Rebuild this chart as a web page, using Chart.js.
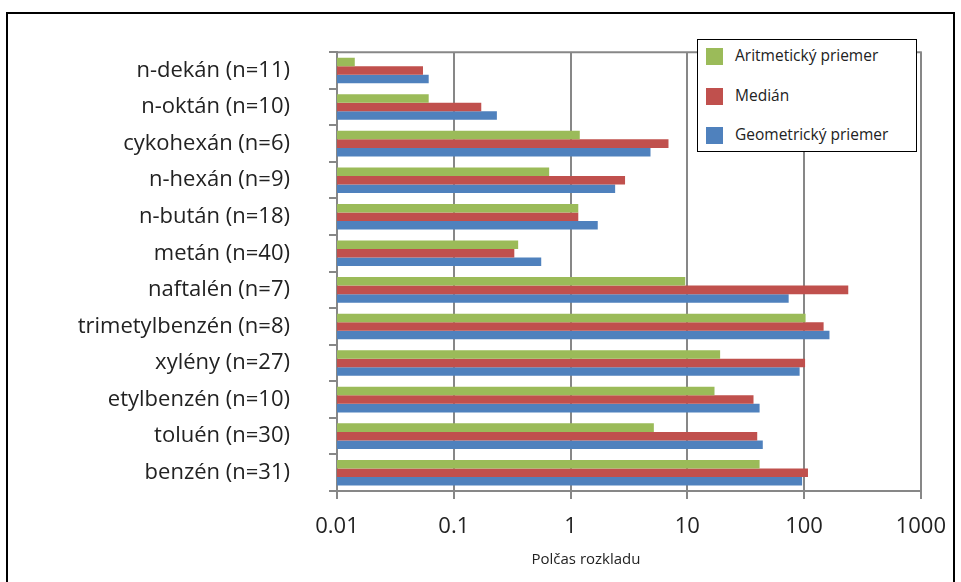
<!DOCTYPE html>
<html>
<head>
<meta charset="utf-8">
<script src="https://cdn.jsdelivr.net/npm/chart.js@4.4.1/dist/chart.umd.min.js"></script>
<style>
  body { margin: 0; background: #fff; }
  #wrap { position: relative; width: 961px; height: 582px; overflow: hidden; }
  #frame { position: absolute; left: 6px; top: 12px; width: 949px; height: 580px; border: 2px solid #000; box-sizing: border-box; }
  #chart { position: absolute; left: 0; top: 0; }
  #legend { position: absolute; left: 697px; top: 39px; width: 220px; height: 113px; box-sizing: border-box;
            border: 1px solid #000; background: #fff; font-family: "Open Sans", sans-serif; font-size: 15.5px; color: #222; }
  .item { position: absolute; left: 8px; height: 17px; line-height: 17px; white-space: nowrap; }
  .sw { display: inline-block; width: 17px; height: 17px; vertical-align: middle; margin-right: 12px; }
  #xtitle { position: absolute; left: 486px; width: 200px; top: 547px; text-align: center;
            font-family: "Open Sans", sans-serif; font-size: 15px; color: #222; line-height: 22px; }
</style>
</head>
<body>
<div id="wrap">
  <div id="frame"></div>
  <canvas id="chart" width="961" height="582"></canvas>
  <div id="legend"></div>
  <div id="xtitle">Polčas rozkladu</div>
</div>
<script>
// kategórie zhora nadol
const categories = [
  'n-dekán (n=11)', 'n-oktán (n=10)', 'cykohexán (n=6)', 'n-hexán (n=9)',
  'n-bután (n=18)', 'metán (n=40)', 'naftalén (n=7)', 'trimetylbenzén (n=8)',
  'xylény (n=27)', 'etylbenzén (n=10)', 'toluén (n=30)', 'benzén (n=31)'
];
const aritmetickyPriemer = [0.0142, 0.061, 1.2, 0.656, 1.165, 0.356, 9.6, 103, 19.1, 17.1, 5.17, 41.6];
const median = [0.0545, 0.172, 6.9, 2.93, 1.165, 0.33, 239, 147, 102, 36.9, 39.7, 108];
const geometrickyPriemer = [0.061, 0.234, 4.84, 2.41, 1.71, 0.561, 73.8, 165, 91.6, 41.6, 44.3, 96.2];
const xTicks = [0.01, 0.1, 1, 10, 100, 1000];

const gridGray = '#878787';
const labelFont = { family: '"Open Sans", sans-serif', size: 22 };

// horná hrana grafu
const topLine = {
  id: 'topLine',
  afterDraw(chart) {
    const { ctx, chartArea } = chart;
    ctx.save();
    ctx.strokeStyle = gridGray;
    ctx.lineWidth = 2;
    ctx.beginPath();
    ctx.moveTo(chartArea.left - 1, chartArea.top);
    ctx.lineTo(chartArea.right + 1, chartArea.top);
    ctx.stroke();
    ctx.restore();
  }
};

const canvas = document.getElementById('chart');
const chart = new Chart(canvas, {
  type: 'bar',
  data: {
    labels: categories,
    datasets: [
      { label: 'Aritmetický priemer', data: aritmetickyPriemer, backgroundColor: '#9BBB59' },
      { label: 'Medián', data: median, backgroundColor: '#C0504D' },
      { label: 'Geometrický priemer', data: geometrickyPriemer, backgroundColor: '#4F81BD' }
    ]
  },
  options: {
    indexAxis: 'y',
    responsive: false,
    animation: false,
    layout: { padding: { left: 0, right: 37, top: 31, bottom: 0 } },
    datasets: { bar: { categoryPercentage: 0.7, barPercentage: 1 } },
    plugins: { legend: { display: false }, tooltip: { enabled: false } },
    scales: {
      x: {
        type: 'logarithmic',
        min: 0.01,
        max: 1000,
        afterBuildTicks: (scale) => { scale.ticks = xTicks.map(v => ({ value: v })); },
        ticks: {
          callback: (v) => String(v),
          font: labelFont,
          color: '#222',
          padding: 15,
          maxRotation: 0
        },
        grid: { color: gridGray, lineWidth: 2, tickLength: 8 },
        border: { color: gridGray, width: 2 },
        afterFit: (scale) => { scale.height = 91; }
      },
      y: {
        ticks: {
          font: labelFont,
          color: '#222',
          padding: 39
        },
        grid: { drawOnChartArea: false, color: gridGray, lineWidth: 2, tickLength: 8 },
        border: { color: gridGray, width: 2 },
        afterFit: (scale) => { scale.width = 337; }
      }
    }
  },
  plugins: [topLine]
});

// legenda vnútri grafu
const legend = document.getElementById('legend');
chart.data.datasets.forEach((ds, i) => {
  const el = document.createElement('div');
  el.className = 'item';
  el.style.top = (7 + i * 39.5) + 'px';
  el.innerHTML = '<span class="sw" style="background:' + ds.backgroundColor + '"></span>' + ds.label;
  legend.appendChild(el);
});
</script>
</body>
</html>
